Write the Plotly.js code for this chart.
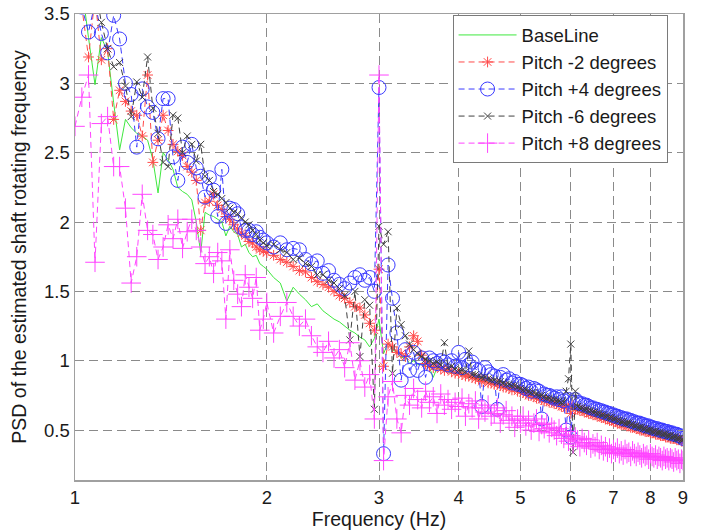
<!DOCTYPE html>
<html>
<head>
<meta charset="utf-8">
<script src="https://cdn.plot.ly/plotly-3.0.1.min.js"></script>
<style>
html,body{margin:0;padding:0;background:#fff;}
#chart{width:701px;height:531px;}
</style>
</head>
<body>
<div id="chart"></div>
<script>
// Frequency bins (Hz)
var freq = [1.000,1.025,1.050,1.075,1.100,1.125,1.150,1.175,1.200,1.225,1.250,1.275,1.300,1.325,1.350,1.375,1.400,1.425,1.450,1.475,1.500,1.525,1.550,1.575,1.600,1.625,1.650,1.675,1.700,1.725,1.750,1.775,1.800,1.825,1.850,1.875,1.900,1.925,1.950,1.975,2.000,
2.05,2.10,2.15,2.20,2.25,2.30,2.35,2.40,2.45,2.50,
2.55,2.60,2.65,2.70,2.75,2.80,2.85,2.90,2.95,3.00,
3.05,3.10,3.15,3.20,3.25,3.30,3.35,3.40,3.45,3.50,
3.55,3.60,3.65,3.70,3.75,3.80,3.85,3.90,3.95,4.00,
4.05,4.10,4.15,4.20,4.25,4.30,4.35,4.40,4.45,4.50,
4.55,4.60,4.65,4.70,4.75,4.80,4.85,4.90,4.95,5.00,
5.05,5.10,5.15,5.20,5.25,5.30,5.35,5.40,5.45,5.50,
5.55,5.60,5.65,5.70,5.75,5.80,5.85,5.90,5.95,6.00,
6.05,6.10,6.15,6.20,6.25,6.30,6.35,6.40,6.45,6.50,
6.55,6.60,6.65,6.70,6.75,6.80,6.85,6.90,6.95,7.00,
7.05,7.10,7.15,7.20,7.25,7.30,7.35,7.40,7.45,7.50,
7.55,7.60,7.65,7.70,7.75,7.80,7.85,7.90,7.95,8.00,
8.05,8.10,8.15,8.20,8.25,8.30,8.35,8.40,8.45,8.50,
8.55,8.60,8.65,8.70,8.75,8.80,8.85,8.90,8.95,9.00];

var baseline = [3.75,3.70,3.33,2.99,3.33,3.23,2.86,2.52,2.74,2.68,2.64,2.62,2.59,2.45,2.21,2.50,2.45,2.38,2.25,2.22,2.20,2.16,2.00,1.78,2.07,2.05,2.04,2.02,2.00,1.90,1.97,1.93,1.91,1.82,1.84,1.78,1.75,1.76,1.70,1.68,1.66,
1.60,1.56,1.43,1.53,1.48,1.44,1.39,1.41,1.36,1.33,
1.30,1.28,1.25,1.22,1.20,1.17,1.15,1.10,1.16,1.30,
1.05,1.13,1.08,1.06,1.02,1.03,0.98,1.00,0.97,0.98,
0.96,0.95,0.88,0.95,0.93,0.93,0.92,0.91,0.91,0.90,
0.90,0.89,0.88,0.88,0.87,0.86,0.86,0.85,0.85,0.84,
0.83,0.83,0.82,0.82,0.81,0.80,0.80,0.79,0.79,0.78,
0.77,0.77,0.76,0.76,0.75,0.74,0.74,0.73,0.72,0.72,
0.71,0.71,0.70,0.70,0.69,0.69,0.68,0.68,0.67,0.66,
0.66,0.66,0.65,0.65,0.64,0.64,0.63,0.63,0.62,0.62,
0.61,0.61,0.60,0.60,0.59,0.59,0.58,0.58,0.57,0.57,
0.56,0.56,0.55,0.55,0.55,0.54,0.54,0.53,0.53,0.53,
0.52,0.52,0.51,0.51,0.51,0.50,0.50,0.49,0.49,0.49,
0.48,0.48,0.48,0.47,0.47,0.47,0.46,0.46,0.46,0.45,
0.45,0.45,0.45,0.44,0.44,0.44,0.43,0.43,0.43,0.42];

var pitchM2 = [3.70,3.55,3.19,3.62,3.17,3.25,2.74,2.95,2.87,2.80,2.77,2.62,3.06,2.43,2.59,2.77,2.66,2.56,2.51,2.48,2.40,2.36,2.30,1.94,2.14,2.15,2.20,2.12,2.09,2.04,2.02,1.98,1.95,1.92,1.90,1.86,1.85,1.82,1.80,1.79,1.78,
1.76,1.73,1.71,1.68,1.65,1.64,1.60,1.57,1.55,1.53,
1.50,1.47,1.45,1.42,1.39,1.38,1.33,1.27,1.22,1.66,
0.96,1.12,1.10,1.06,1.05,1.03,1.10,1.18,1.14,1.04,
0.98,0.96,0.95,0.96,0.94,0.93,0.94,0.92,0.91,0.91,
0.90,0.89,0.89,0.88,0.87,0.87,0.85,0.86,0.84,0.84,
0.83,0.83,0.82,0.81,0.81,0.80,0.79,0.80,0.78,0.78,
0.77,0.76,0.75,0.75,0.74,0.73,0.73,0.72,0.71,0.71,
0.70,0.70,0.69,0.69,0.68,0.67,0.67,0.66,0.68,0.62,
0.68,0.65,0.65,0.64,0.64,0.63,0.63,0.62,0.62,0.61,
0.61,0.60,0.60,0.59,0.59,0.58,0.58,0.57,0.57,0.56,
0.56,0.55,0.55,0.54,0.54,0.54,0.53,0.53,0.52,0.52,
0.52,0.51,0.51,0.50,0.50,0.50,0.49,0.49,0.49,0.48,
0.48,0.48,0.47,0.47,0.47,0.46,0.46,0.46,0.45,0.45,
0.45,0.44,0.44,0.44,0.44,0.43,0.43,0.43,0.42,0.42];

var pitchP4 = [3.62,3.55,3.37,3.58,3.36,3.22,3.49,3.32,3.00,2.92,2.54,2.96,2.83,2.79,2.60,2.89,2.89,2.47,2.30,2.54,2.43,2.56,2.39,2.33,2.18,2.32,2.23,2.04,2.38,1.99,2.10,2.09,2.06,1.96,1.94,1.94,1.91,1.93,1.89,1.87,1.85,
1.82,1.85,1.80,1.81,1.80,1.73,1.70,1.72,1.63,1.65,
1.58,1.55,1.52,1.56,1.60,1.62,1.58,1.60,1.50,2.97,
0.33,1.69,1.45,1.20,0.86,1.08,0.93,1.06,0.93,1.02,
0.88,1.02,1.00,0.98,1.00,0.99,0.97,1.00,0.96,1.06,
0.95,1.01,0.97,0.99,0.94,0.93,0.67,0.95,0.92,0.90,
0.89,0.65,0.88,0.90,0.86,0.87,0.84,0.85,0.83,0.83,
0.82,0.80,0.81,0.78,0.80,0.79,0.78,0.58,0.76,0.75,
0.75,0.74,0.73,0.74,0.72,0.74,0.71,0.50,0.72,0.45,
0.70,0.72,0.70,0.69,0.69,0.68,0.68,0.67,0.66,0.66,
0.65,0.65,0.64,0.64,0.63,0.63,0.62,0.62,0.61,0.61,
0.60,0.60,0.59,0.59,0.58,0.58,0.58,0.57,0.57,0.56,
0.56,0.55,0.55,0.55,0.54,0.54,0.53,0.53,0.53,0.52,
0.52,0.51,0.51,0.51,0.50,0.50,0.50,0.49,0.49,0.49,
0.48,0.48,0.48,0.47,0.47,0.47,0.46,0.46,0.45,0.44];

var pitchM6 = [3.75,3.62,3.55,3.70,3.44,3.25,3.12,3.15,2.98,2.76,3.01,2.90,3.19,2.82,2.64,2.43,2.40,2.77,2.75,2.50,2.62,2.56,2.44,2.56,2.33,2.30,2.22,2.20,2.17,2.14,2.10,2.07,2.06,2.03,2.00,1.98,1.94,1.91,1.87,1.85,1.83,
1.84,1.80,1.78,1.73,1.74,1.70,1.68,1.62,1.62,1.58,
1.56,1.52,1.47,1.15,1.50,1.03,1.44,1.40,0.65,1.97,
1.84,1.93,0.91,1.38,1.26,1.18,1.12,1.08,1.05,1.03,
1.01,1.00,0.98,0.99,0.97,1.13,0.95,0.96,0.94,0.93,
0.93,0.92,1.07,0.90,0.90,0.89,0.88,0.88,0.87,0.86,
0.86,0.85,0.85,0.84,0.83,0.83,0.82,0.82,0.81,0.80,
0.79,0.79,0.78,0.77,0.77,0.76,0.75,0.75,0.74,0.73,
0.73,0.72,0.72,0.71,0.71,0.70,0.70,0.78,0.87,1.12,
0.34,0.78,0.67,0.66,0.66,0.65,0.65,0.64,0.64,0.63,
0.63,0.62,0.62,0.61,0.61,0.60,0.60,0.59,0.59,0.58,
0.58,0.57,0.57,0.56,0.56,0.55,0.55,0.55,0.54,0.54,
0.53,0.53,0.52,0.52,0.52,0.51,0.51,0.50,0.50,0.50,
0.49,0.49,0.49,0.48,0.48,0.48,0.47,0.47,0.47,0.46,
0.46,0.46,0.45,0.45,0.45,0.44,0.44,0.44,0.43,0.43];

var pitchP8 = [2.69,2.90,3.06,1.71,2.71,2.76,2.40,2.40,2.10,1.56,1.75,2.20,1.94,1.91,1.73,1.82,1.98,1.88,2.02,1.81,1.93,2.02,1.94,1.82,1.70,1.75,1.63,1.78,1.72,1.30,1.80,1.58,1.48,1.39,1.62,1.53,1.45,1.60,1.22,1.30,1.42,
1.20,1.32,1.42,1.32,1.25,1.30,1.18,1.10,1.06,1.14,
1.02,1.08,0.95,1.13,0.86,1.00,0.81,0.90,0.58,3.06,
0.28,0.74,0.85,0.58,0.48,0.75,0.68,0.80,0.72,0.66,
0.78,0.70,0.74,0.62,0.76,0.68,0.72,0.65,0.70,0.67,
0.73,0.60,0.69,0.66,0.71,0.58,0.66,0.63,0.68,0.60,
0.62,0.66,0.55,0.61,0.64,0.57,0.60,0.52,0.58,0.55,
0.60,0.53,0.57,0.50,0.55,0.58,0.49,0.54,0.51,0.55,
0.48,0.52,0.50,0.46,0.51,0.47,0.44,0.49,0.42,0.46,
0.40,0.45,0.43,0.38,0.44,0.41,0.39,0.43,0.37,0.40,
0.38,0.41,0.36,0.39,0.35,0.38,0.34,0.37,0.33,0.36,
0.34,0.37,0.33,0.35,0.32,0.36,0.33,0.34,0.31,0.35,
0.33,0.31,0.34,0.32,0.30,0.33,0.31,0.32,0.29,0.33,
0.31,0.30,0.32,0.29,0.31,0.30,0.28,0.31,0.29,0.30,
0.28,0.30,0.29,0.27,0.30,0.28,0.29,0.26,0.29,0.28];

var seriesNames = ['BaseLine','Pitch -2 degrees','Pitch +4 degrees','Pitch -6 degrees','Pitch +8 degrees'];
var xTicks = [1,2,3,4,5,6,7,8,9];
var xTickText = ['1','2','3','4','5','6','7','8','9'];
var yTicks = [0.5,1,1.5,2,2.5,3,3.5];
var yTickText = ['0.5','1','1.5','2','2.5','3','3.5'];

var FONT = 'Liberation Sans, Arial, Helvetica, sans-serif';
var TXT = '#1a1a1a';
var mdash = '6px,4px';

var traces = [
  {x: freq, y: baseline, name: seriesNames[0], type: 'scatter', mode: 'lines',
   line: {color: '#3fe83f', width: 1}},
  {x: freq, y: pitchM2, name: seriesNames[1], type: 'scatter', mode: 'lines+markers',
   line: {color: '#ff4a4a', width: 1, dash: mdash},
   marker: {symbol: 'asterisk-open', size: 9, color: '#ff4a4a', line: {color: '#ff4a4a', width: 1}}},
  {x: freq, y: pitchP4, name: seriesNames[2], type: 'scatter', mode: 'lines+markers',
   line: {color: '#3a3aff', width: 1, dash: mdash},
   marker: {symbol: 'circle-open', size: 14, color: '#3a3aff', line: {color: '#3a3aff', width: 1}}},
  {x: freq, y: pitchM6, name: seriesNames[3], type: 'scatter', mode: 'lines+markers',
   line: {color: '#404040', width: 1, dash: mdash},
   marker: {symbol: 'x-thin-open', size: 7, color: '#404040', line: {color: '#404040', width: 1}}},
  {x: freq, y: pitchP8, name: seriesNames[4], type: 'scatter', mode: 'lines+markers',
   line: {color: '#ff45ff', width: 1, dash: mdash},
   marker: {symbol: 'cross-thin-open', size: 14, color: '#ff45ff', line: {color: '#ff45ff', width: 1}}}
];

var layout = {
  width: 701, height: 531,
  margin: {l: 75, r: 18, t: 14, b: 51, pad: 0},
  paper_bgcolor: '#ffffff', plot_bgcolor: '#ffffff',
  font: {family: FONT, size: 18.5, color: TXT},
  showlegend: true,
  xaxis: {
    type: 'log', range: [0, Math.log10(9)],
    tickmode: 'array', tickvals: xTicks, ticktext: xTickText,
    ticks: 'inside', ticklen: 5, tickcolor: '#909090', tickwidth: 1,
    showline: true, linecolor: '#a0a0a0', linewidth: 1.5, mirror: 'ticks',
    showgrid: true, gridcolor: '#8a8a8a', gridwidth: 1, griddash: '9px,5px',
    zeroline: false,
    tickfont: {family: FONT, size: 18.5, color: TXT},
    title: {text: 'Frequency (Hz)', font: {family: FONT, size: 19.5, color: TXT}, standoff: 4}
  },
  yaxis: {
    range: [0.14, 3.5],
    tickmode: 'array', tickvals: yTicks, ticktext: yTickText,
    ticks: 'inside', ticklen: 5, tickcolor: '#909090', tickwidth: 1,
    showline: true, linecolor: '#a0a0a0', linewidth: 1.5, mirror: 'ticks',
    showgrid: true, gridcolor: '#8a8a8a', gridwidth: 1, griddash: '9px,5px',
    zeroline: false,
    tickfont: {family: FONT, size: 18.5, color: TXT},
    title: {text: 'PSD of the estimated shaft rotating frequency', font: {family: FONT, size: 19.5, color: TXT}, standoff: 12}
  },
  legend: {
    x: 0.621, y: 0.997, xanchor: 'left', yanchor: 'top',
    bgcolor: '#ffffff', bordercolor: '#7a7a7a', borderwidth: 1,
    font: {family: FONT, size: 18.5, color: TXT},
    itemwidth: 58, tracegroupgap: 0
  }
};

Plotly.newPlot('chart', traces, layout, {displayModeBar: false, staticPlot: true});
</script>
</body>
</html>
